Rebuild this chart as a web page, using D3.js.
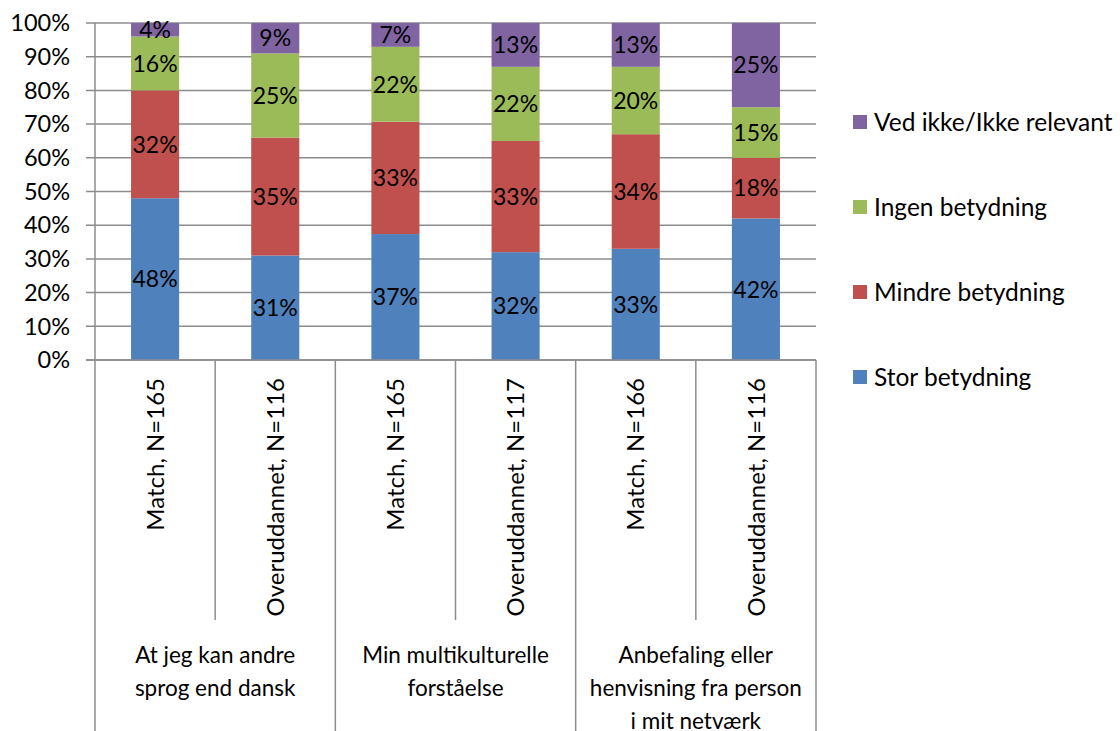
<!DOCTYPE html>
<html>
<head>
<meta charset="utf-8">
<script src="https://cdn.jsdelivr.net/npm/d3@7"></script>
<style>
  html, body { margin: 0; padding: 0; background: #fff; }
  svg { display: block; font-family: "Lato", "Open Sans", sans-serif; }
</style>
</head>
<body>
<svg id="chart" width="1120" height="731"></svg>
<script>
// Response categories, bottom to top in each stacked column
const seriesNames = ["Stor betydning", "Mindre betydning", "Ingen betydning", "Ved ikke/Ikke relevant"];
const seriesColors = ["#4F81BD", "#C0504D", "#9BBB59", "#8064A2"];

// Columns: sub-group label and parent question
const columns = ["Match, N=165", "Overuddannet, N=116", "Match, N=165", "Overuddannet, N=117", "Match, N=166", "Overuddannet, N=116"];
const groups = [
  ["At jeg kan andre", "sprog end dansk"],
  ["Min multikulturelle", "forståelse"],
  ["Anbefaling eller", "henvisning fra person", "i mit netværk"]
];

// Percent shares per series, one value per column
const stor    = [48, 31, 37, 32, 33, 42];
const mindre  = [32, 35, 33, 33, 34, 18];
const ingen   = [16, 25, 22, 22, 20, 15];
const vedIkke = [4, 9, 7, 13, 13, 25];

const yTicks = [0, 10, 20, 30, 40, 50, 60, 70, 80, 90, 100];

const seriesValues = [stor, mindre, ingen, vedIkke];

// 100% stacked rows
const rows = columns.map((c, i) => {
  const row = { idx: i };
  const total = d3.sum(seriesValues, s => s[i]);
  seriesNames.forEach((n, k) => { row[n] = seriesValues[k][i] / total * 100; row[n + "_raw"] = seriesValues[k][i]; });
  return row;
});
const stacked = d3.stack().keys(seriesNames)(rows);

const svg = d3.select("#chart");
const plotLeft = 95, plotRight = 816, plotTop = 23, plotBottom = 360;

const x = d3.scaleBand().domain(d3.range(columns.length)).range([plotLeft, plotRight]).paddingInner(0.6).paddingOuter(0.3);
const y = d3.scaleLinear().domain([0, 100]).range([plotBottom, plotTop]);

const gridColor = "#8c8c8c";

// Horizontal gridlines with ticks extending left of the axis
svg.append("g").selectAll("line").data(yTicks).join("line")
  .attr("x1", plotLeft - 9).attr("x2", plotRight)
  .attr("y1", d => y(d)).attr("y2", d => y(d))
  .attr("stroke", gridColor).attr("stroke-width", 1.5);

// Y axis labels
svg.append("g").selectAll("text").data(yTicks).join("text")
  .attr("x", 70).attr("y", d => y(d))
  .attr("dy", "0.35em")
  .attr("text-anchor", "end")
  .attr("font-size", 23.5)
  .attr("fill", "#000")
  .text(d => d + "%");

// Stacked bars
const layer = svg.append("g").selectAll("g").data(stacked).join("g")
  .attr("fill", (d, i) => seriesColors[i]);
layer.selectAll("rect").data(d => d).join("rect")
  .attr("x", d => x(d.data.idx))
  .attr("width", x.bandwidth())
  .attr("y", d => y(d[1]))
  .attr("height", d => y(d[0]) - y(d[1]));

// Data labels
svg.append("g").selectAll("g").data(stacked).join("g")
  .each(function (s) {
    d3.select(this).selectAll("text").data(s).join("text")
      .attr("x", d => x(d.data.idx) + x.bandwidth() / 2)
      .attr("y", d => (y(d[0]) + y(d[1])) / 2)
      .attr("dy", "0.36em")
      .attr("text-anchor", "middle")
      .attr("font-size", 23)
      .attr("fill", "#000")
      .text(d => d.data[s.key + "_raw"] + "%");
  });

// Category axis frame
const colEdge = i => plotLeft + i * (plotRight - plotLeft) / columns.length;
const axisG = svg.append("g").attr("stroke", gridColor).attr("stroke-width", 1.5);
axisG.append("line").attr("x1", plotLeft).attr("x2", plotLeft).attr("y1", plotTop).attr("y2", 731);
axisG.append("line").attr("x1", plotLeft - 9).attr("x2", plotRight).attr("y1", plotBottom).attr("y2", plotBottom);
// Group separators run to the bottom, column separators stop above group labels
d3.range(1, columns.length + 1).forEach(i => {
  const isGroupEdge = i % 2 === 0;
  axisG.append("line")
    .attr("x1", colEdge(i)).attr("x2", colEdge(i))
    .attr("y1", plotBottom).attr("y2", isGroupEdge ? 731 : 620);
});

// Rotated column labels
svg.append("g").selectAll("text").data(columns).join("text")
  .attr("transform", (d, i) => `translate(${x(i) + x.bandwidth() / 2},378) rotate(-90)`)
  .attr("dy", "0.36em")
  .attr("text-anchor", "end")
  .attr("font-size", 24)
  .attr("fill", "#000")
  .text(d => d);

// Group labels
groups.forEach((lines, g) => {
  const cx = (colEdge(g * 2) + colEdge(g * 2 + 2)) / 2;
  svg.append("text")
    .attr("text-anchor", "middle")
    .attr("font-size", 22.5)
    .attr("fill", "#000")
    .selectAll("tspan").data(lines).join("tspan")
    .attr("x", cx)
    .attr("y", (d, i) => 655 + i * 33)
    .attr("dy", "0.36em")
    .text(d => d);
});

// Legend, top entry is the last series
const legendY = [377, 292, 207, 122];
const legend = svg.append("g").selectAll("g").data(seriesNames).join("g")
  .attr("transform", (d, i) => `translate(853,${legendY[i]})`);
legend.append("rect").attr("x", 0).attr("y", -7).attr("width", 14).attr("height", 14)
  .attr("fill", (d, i) => seriesColors[i]);
legend.append("text").attr("x", 21).attr("dy", "0.36em")
  .attr("font-size", 24.5).attr("fill", "#000")
  .text(d => d);
</script>
</body>
</html>
